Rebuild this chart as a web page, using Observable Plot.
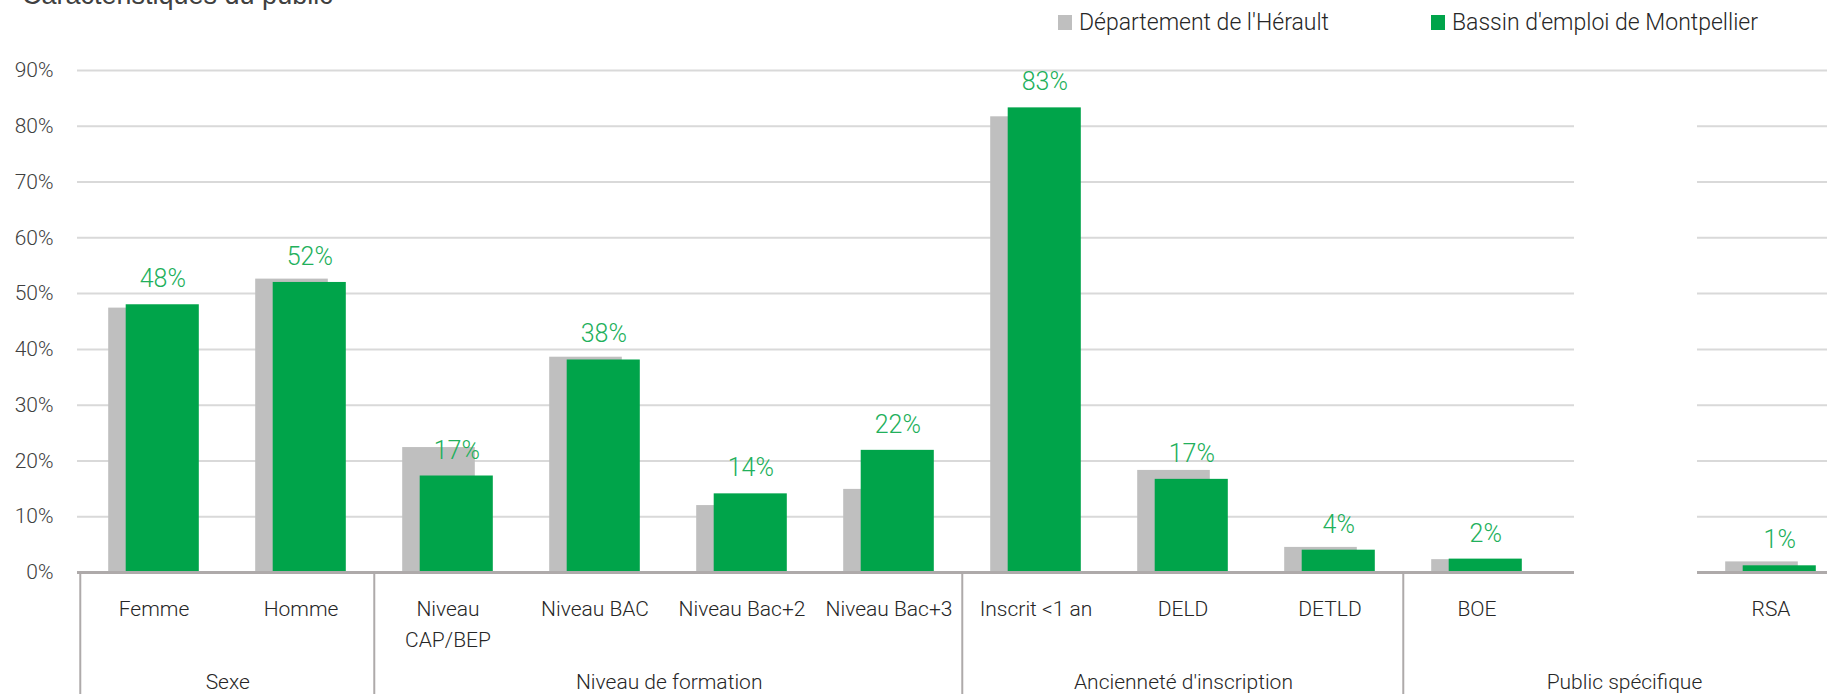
<!DOCTYPE html>
<html>
<head>
<meta charset="utf-8">
<script src="https://cdn.jsdelivr.net/npm/d3@7"></script>
<script src="https://cdn.jsdelivr.net/npm/@observablehq/plot@0.6"></script>
<style>
  html, body { margin: 0; padding: 0; background: #fff; overflow: hidden; }
  #wrap { position: relative; width: 1827px; height: 694px; overflow: hidden; }
  #title { position: absolute; left: 22px; top: -18px; font-family: "Liberation Sans", Arial, sans-serif; font-size: 27px; line-height: 27px; color: #404040; white-space: nowrap; }
  .leg { position: absolute; top: 9px; display: flex; align-items: center; font-family: Roboto, sans-serif; font-weight: 300; font-size: 23px; color: #262626; white-space: nowrap; }
  .sw { width: 14px; height: 15px; margin-right: 7px; }
  #chart { position: absolute; left: 0; top: 0; }
</style>
</head>
<body>
<div id="wrap">
  <div id="chart"></div>
  <div id="title"></div>
</div>
<script>
// ---- data ----
const title = "Caractéristiques du public";
const seriesNames = ["Département de l'Hérault", "Bassin d'emploi de Montpellier"];
const seriesColors = ["#bfbfbf", "#00a44a"];
const categories = ["Femme", "Homme", "Niveau CAP/BEP", "Niveau BAC", "Niveau Bac+2", "Niveau Bac+3",
                    "Inscrit <1 an", "DELD", "DETLD", "BOE", "(masqué)", "RSA"];
const tickLabels = ["Femme", "Homme", "Niveau\nCAP/BEP", "Niveau BAC", "Niveau Bac+2", "Niveau Bac+3",
                    "Inscrit <1 an", "DELD", "DETLD", "BOE", "", "RSA"];
const herault     = [47.4, 52.6, 22.4, 38.6, 12.0, 14.9, 81.7, 18.3, 4.5, 2.3, null, 1.9];
const montpellier = [48.0, 52.0, 17.3, 38.1, 14.1, 21.9, 83.3, 16.7, 4.0, 2.4, null, 1.2];
const groups     = ["Sexe", "Niveau de formation", "Ancienneté d'inscription", "Public spécifique"];
const groupSizes = [2, 4, 3, 3];
const yTicks = [0, 10, 20, 30, 40, 50, 60, 70, 80, 90];
const maskedCategory = "(masqué)";

// ---- build ----
document.getElementById("title").textContent = title;
const wrap = document.getElementById("wrap");
const legLeft = [1058, 1431];
seriesNames.forEach((n, i) => {
  const d = document.createElement("div");
  d.className = "leg";
  d.style.left = legLeft[i] + "px";
  const sw = document.createElement("span");
  sw.className = "sw";
  sw.style.background = seriesColors[i];
  const tx = document.createElement("span");
  tx.textContent = n;
  d.appendChild(sw); d.appendChild(tx);
  wrap.appendChild(d);
});

const rows = categories.map((c, i) => ({cat: c, label: tickLabels[i], h: herault[i], m: montpellier[i]}));
const bars = rows.filter(d => d.m != null);
const labelOf = new Map(rows.map(d => [d.cat, d.label]));
let s = 0;
const groupRows = groups.map((g, i) => { const r = {name: g, first: categories[s], n: groupSizes[i]}; s += groupSizes[i]; return r; });

const W = 1827, H = 694;
const mL = 77, bw = 147.45;
const font = "Roboto, 'Noto Sans', sans-serif";
const axisColor = "#aeaaaa";
const textColor = "#262626";

const groupLabelMarks = groupRows.map(g =>
  Plot.text([g], {x: "first", y: () => 0, text: "name", dx: (g.n - 1) * bw / 2, dy: 110,
    lineAnchor: "middle", fontSize: 21, fontFamily: font, fontWeight: 300, fill: textColor}));

const chart = Plot.plot({
  width: W, height: H,
  marginLeft: mL, marginRight: 0, marginTop: 70, marginBottom: 122,
  x: {domain: categories, range: [mL, mL + bw * categories.length], padding: 0},
  y: {domain: [0, 90]},
  style: {fontFamily: font, fontSize: "21px", fontWeight: 300, color: textColor, background: "white"},
  marks: [
    Plot.gridY(yTicks, {stroke: "#d9d9d9", strokeOpacity: 1, strokeWidth: 2}),
    Plot.axisY(yTicks, {tickSize: 0, tickPadding: 24, tickFormat: d => d + "%", fontSize: 21, fill: "#404040", label: null}),
    Plot.barY(bars, {x: "cat", y: "h", fill: seriesColors[0], insetLeft: 28.2, insetRight: 46.2}),
    Plot.barY(bars, {x: "cat", y: "m", fill: seriesColors[1], insetLeft: 45.7, insetRight: 28.2}),
    Plot.ruleY([0], {stroke: axisColor, strokeWidth: 3}),
    Plot.barY([maskedCategory], {x: d => d, y1: -1, y2: 86, fill: "white", insetLeft: 24, insetRight: 0}),
    Plot.text(bars, {x: "cat", y: "m", text: d => Math.round(d.m) + "%", dx: 8.75, dy: -17.5,
      lineAnchor: "bottom", fill: "#22b05b", fontSize: 25, fontFamily: font, fontWeight: 300}),
    Plot.axisX({tickSize: 0, tickPadding: 22, tickFormat: c => labelOf.get(c), lineHeight: 1.45,
      fontSize: 21, fill: textColor, label: null}),
    Plot.ruleX(groupRows, {x: "first", dx: -bw / 2, y1: 0, y2: -30, stroke: axisColor, strokeWidth: 2}),
    ...groupLabelMarks
  ]
});
document.getElementById("chart").appendChild(chart);
</script>
</body>
</html>
